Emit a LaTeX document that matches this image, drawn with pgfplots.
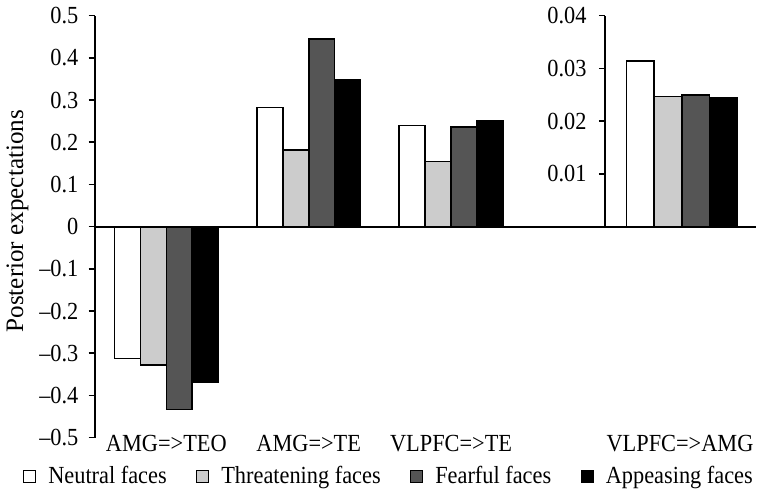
\documentclass[border=0pt]{standalone}
\usepackage{fontspec}
\setmainfont{Liberation Serif}
\usepackage{pgfplots}
\pgfplotsset{compat=1.18}

\definecolor{lightbar}{HTML}{CCCCCC}
\definecolor{darkbar}{HTML}{555555}

\pgfplotsset{
  faces/.style={
    scale only axis, anchor=south west,
    ybar=0pt,
    axis y line*=left,
    axis line style={-, line width=1pt},
    tick align=outside, ytick pos=left,
    major tick length=3pt,
    every tick/.style={black, line width=0.8pt},
    tick label style={font=\fontsize{11.3}{13}\selectfont, yscale=1.1},
    scaled y ticks=false,
    every axis plot/.append style={draw=black, line width=0.8pt},
  },
}

\begin{document}
\begin{tikzpicture}
\path (0,0) rectangle (380pt,246.5pt);

% left chart: three connections
\begin{axis}[faces,
  at={(44pt,28pt)}, width=334.5pt, height=213.5pt,
  xmin=-0.5035, xmax=4.142, ymin=-0.5, ymax=0.5,
  bar width=0.182,
  axis x line*=bottom, x axis line style={draw=none},
  xtick={0,1,2,3.608},
  xticklabels={AMG=>TEO, AMG=>TE, VLPFC=>TE, VLPFC=>AMG},
  x tick style={draw=none},
  xticklabel style={anchor=center},
  ytick={-0.5,-0.4,-0.3,-0.2,-0.1,0,0.1,0.2,0.3,0.4,0.5},
  yticklabels={--0.5,--0.4,--0.3,--0.2,--0.1,0,0.1,0.2,0.3,0.4,0.5},
  yticklabel style={xshift=-1.7pt},
  ylabel={Posterior expectations},
  ylabel style={at={(axis description cs:-0.1166,0.513)}, anchor=center,
                font=\fontsize{12.7}{15}\selectfont},
  legend columns=4,
  legend style={at={(-0.109,-0.092)}, anchor=west, draw=none, fill=none,
                inner sep=0pt, font=\fontsize{11.3}{13}\selectfont,
                nodes={yscale=1.1},
                /tikz/every even column/.append style={column sep=12.8pt}},
  legend image code/.code={
    \draw[#1, line width=0.6pt] (0pt,-3pt) rectangle (6pt,3pt);
    \path[draw=none, fill=none] (6pt,0pt) -- (10.5pt,0pt);
  },
]
\addplot[fill=white] coordinates {(0,-0.312) (1,0.282) (2,0.240)};
\addplot[fill=lightbar] coordinates {(0,-0.328) (1,0.181) (2,0.154)};
\addplot[fill=darkbar] coordinates {(0,-0.433) (1,0.445) (2,0.236)};
\addplot[fill=black] coordinates {(0,-0.369) (1,0.347) (2,0.250)};
\legend{Neutral faces, Threatening faces, Fearful faces, Appeasing faces}
\draw[line width=1pt] (axis cs:-0.5035,0) -- (axis cs:4.142,0);
\end{axis}

% right chart: VLPFC=>AMG on its own scale
\begin{axis}[faces,
  at={(302pt,134.75pt)}, width=76.5pt, height=106.75pt,
  xmin=-78, xmax=75, ymin=0, ymax=0.04,
  bar width=28,
  axis x line=none,
  xtick=\empty,
  ytick={0.01,0.02,0.03,0.04},
  yticklabels={0.01,0.02,0.03,0.04},
  yticklabel style={xshift=-2.7pt},
]
\addplot[fill=white] coordinates {(0,0.0314)};
\addplot[fill=lightbar] coordinates {(0,0.0247)};
\addplot[fill=darkbar] coordinates {(0,0.0250)};
\addplot[fill=black] coordinates {(0,0.0244)};
\end{axis}
\end{tikzpicture}
\end{document}
